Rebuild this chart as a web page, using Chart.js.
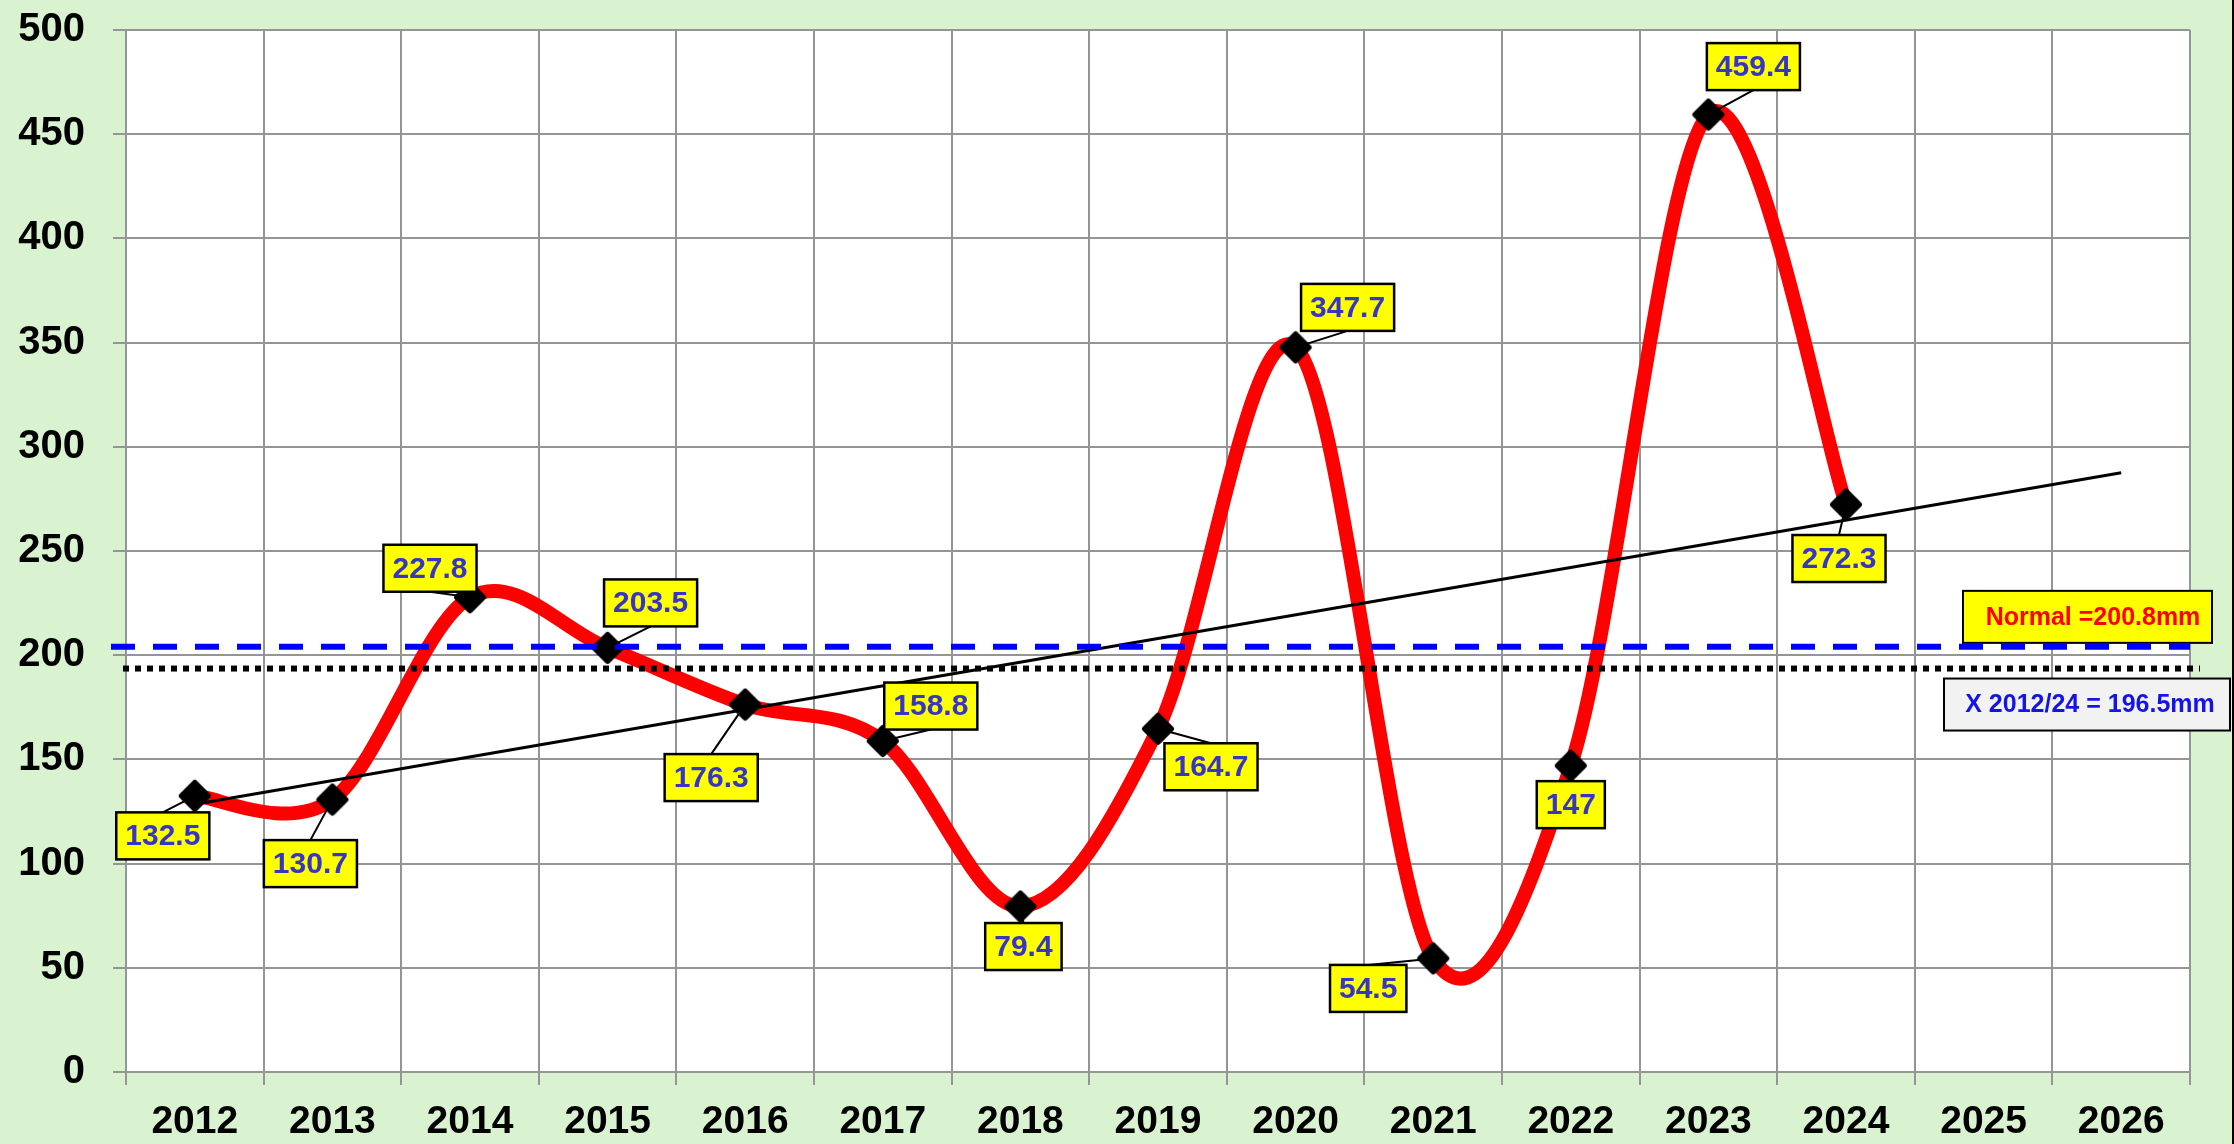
<!DOCTYPE html>
<html>
<head>
<meta charset="utf-8">
<script src="https://cdn.jsdelivr.net/npm/chart.js@4.4.1/dist/chart.umd.min.js"></script>
<style>
html,body{margin:0;padding:0;background:#d9f2d0;}
#cont{position:relative;width:2234px;height:1144px;}
</style>
</head>
<body>
<div id="cont"><canvas id="grafica" width="2234" height="1144"></canvas></div>
<script>
// datos
var anios=["2012","2013","2014","2015","2016","2017","2018","2019","2020","2021","2022","2023","2024","2025","2026"];
var lluvia=[132.5,130.7,227.8,203.5,176.3,158.8,79.4,164.7,347.7,54.5,147,459.4,272.3,null,null];
var tendencia=[128.5,287.5]; // 2012 y 2026
var lineaNormal=204;
var lineaPromedio=193.6;
var textoNormal="Normal =200.8mm";
var textoPromedio="X 2012/24 = 196.5mm";
var yMin=0, yMax=500, yPaso=50;

// donde va cada etiqueta respecto al punto (px)
var desplaza=[[-32,40],[-22,64],[-40,-29],[43,-45],[-34,73],[48,-35],[3,40],[53,38],[52,-40],[-65,30],[0,39],[45,-48],[-7,54]];

var fuente='"Liberation Sans", Arial, sans-serif';
var gris='#959595';

var serieTend=anios.map(function(a,i){
	if(i==0) return tendencia[0];
	if(i==anios.length-1) return tendencia[1];
	return null;
});

// rombo negro con esquinas redondeadas
var rombo=document.createElement('canvas');
rombo.width=34; rombo.height=34;
(function(){
	var c=rombo.getContext('2d');
	c.fillStyle='#000'; c.strokeStyle='#000'; c.lineWidth=6; c.lineJoin='round';
	c.beginPath();
	c.moveTo(17,4); c.lineTo(30,17); c.lineTo(17,30); c.lineTo(4,17); c.closePath();
	c.fill(); c.stroke();
})();

var fondo={
	id:'fondo',
	beforeDraw:function(chart){
		var ctx=chart.ctx, a=chart.chartArea;
		ctx.save();
		ctx.fillStyle='#d9f2d0';
		ctx.fillRect(0,0,chart.width,chart.height);
		ctx.fillStyle='#fff';
		ctx.fillRect(a.left,a.top,a.right-a.left,a.bottom-a.top);
		ctx.fillStyle='#000';
		ctx.fillRect(chart.width-2,0,2,chart.height);
		ctx.restore();
	}
};

// suavizado tipo excel (catmull-rom), en vez del de chart.js
var suavizado={
	id:'suavizado',
	beforeDatasetDraw:function(chart,args){
		if(args.index!=1) return;
		var linea=args.meta.dataset;
		linea.updateControlPoints(chart.chartArea,'x');
		var pts=args.meta.data.filter(function(p){return !p.skip;});
		for(var i=0;i<pts.length;i++){
			var pp=pts[i-1]||pts[i], pn=pts[i+1]||pts[i];
			var dx=(pn.x-pp.x)/6, dy=(pn.y-pp.y)/6;
			pts[i].cp1x=pts[i].x-dx; pts[i].cp1y=pts[i].y-dy;
			pts[i].cp2x=pts[i].x+dx; pts[i].cp2y=pts[i].y+dy;
		}
		delete linea._path;
	}
};

var etiquetas={
	id:'etiquetas',
	afterDatasetsDraw:function(chart){
		var ctx=chart.ctx, a=chart.chartArea, y=chart.scales.y;
		ctx.save();
		// normal (azul) y promedio (punteada)
		var yn=y.getPixelForValue(lineaNormal);
		ctx.lineWidth=6; ctx.strokeStyle='#0000ff'; ctx.setLineDash([24,18]);
		ctx.beginPath(); ctx.moveTo(a.left-15,yn); ctx.lineTo(a.right,yn); ctx.stroke();
		var yp=y.getPixelForValue(lineaPromedio);
		ctx.strokeStyle='#000'; ctx.setLineDash([6,6]);
		ctx.beginPath(); ctx.moveTo(a.left-3,yp); ctx.lineTo(a.right+10,yp); ctx.stroke();
		ctx.setLineDash([]);

		// etiquetas de cada punto
		var meta=chart.getDatasetMeta(1);
		ctx.font='bold 30px '+fuente;
		ctx.textAlign='center'; ctx.textBaseline='middle';
		meta.data.forEach(function(p,i){
			if(lluvia[i]==null) return;
			var cx=p.x+desplaza[i][0], cy=p.y+desplaza[i][1];
			var txt=String(lluvia[i]);
			var w=ctx.measureText(txt).width+18, h=47;
			var ty=cy>p.y ? cy-h/2 : cy+h/2;
			ctx.strokeStyle='#000'; ctx.lineWidth=2;
			ctx.beginPath(); ctx.moveTo(p.x,p.y); ctx.lineTo(cx,ty); ctx.stroke();
			ctx.fillStyle='#ffff00';
			ctx.fillRect(cx-w/2,cy-h/2,w,h);
			ctx.lineWidth=2.5;
			ctx.strokeRect(cx-w/2,cy-h/2,w,h);
			ctx.fillStyle='#3535c8';
			ctx.fillText(txt,cx,cy+1);
		});

		// cuadros de texto a la derecha
		ctx.font='bold 25px '+fuente;
		ctx.lineWidth=2;
		var l=a.right-227, t=yn-56;
		ctx.fillStyle='#ffff00'; ctx.fillRect(l,t,249,52);
		ctx.strokeStyle='#000'; ctx.strokeRect(l,t,249,52);
		ctx.fillStyle='#ff0000'; ctx.fillText(textoNormal,l+130,t+27);
		l=a.right-246; t=yp+10;
		ctx.fillStyle='#f2f2f2'; ctx.fillRect(l,t,286,52);
		ctx.strokeRect(l,t,286,52);
		ctx.fillStyle='#1414e6'; ctx.fillText(textoPromedio,l+146,t+27);
		ctx.restore();
	}
};

var grafica=new Chart(document.getElementById('grafica'),{
	type:'line',
	data:{
		labels:anios,
		datasets:[{
			label:'tendencia',
			data:serieTend,
			borderColor:'#000',
			borderWidth:3,
			pointRadius:0,
			spanGaps:true,
			tension:0
		},{
			label:'lluvia',
			data:lluvia,
			borderColor:'#ff0000',
			borderWidth:14,
			tension:0.4,
			pointStyle:rombo,
			pointRadius:16,
			pointHoverRadius:16,
			fill:false
		}]
	},
	options:{
		responsive:false,
		animation:false,
		events:[],
		layout:{padding:{top:26,right:44,left:0,bottom:0}},
		plugins:{legend:{display:false},tooltip:{enabled:false}},
		scales:{
			x:{
				offset:true,
				grid:{offset:true,color:gris,lineWidth:2,tickLength:13},
				border:{color:gris,width:2},
				ticks:{color:'#000',font:{family:fuente,size:39,weight:'bold'},padding:14,maxRotation:0,autoSkip:false},
				afterFit:function(s){s.height=72; s.paddingLeft=0; s.paddingRight=0;}
			},
			y:{
				min:yMin,max:yMax,
				grid:{color:gris,lineWidth:2,tickLength:13},
				border:{color:gris,width:2},
				ticks:{stepSize:yPaso,color:'#000',font:{family:fuente,size:40,weight:'bold'},padding:28},
				afterFit:function(s){s.width=126; s.paddingTop=0; s.paddingBottom=0;}
			}
		}
	},
	plugins:[fondo,suavizado,etiquetas]
});
</script>
</body>
</html>
